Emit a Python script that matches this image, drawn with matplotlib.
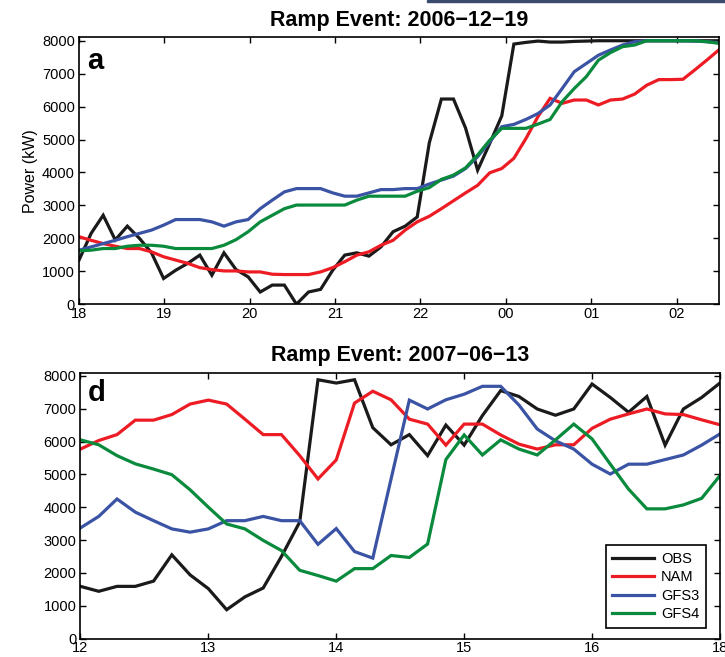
import numpy as np
import matplotlib
matplotlib.use("Agg")
import matplotlib.pyplot as plt
from matplotlib.patches import Rectangle

plt.rcParams['font.family'] = ['Liberation Sans', 'DejaVu Sans']

# --- ramp event 2006-12-19 (panel a) ---
obs_a = [1340, 2150, 2700, 1950, 2370, 2000, 1560, 780, 1030, 1240,
         1490, 880, 1560, 1050, 830, 370, 580, 580, 0, 370,
         450, 1030, 1490, 1560, 1460, 1740, 2200, 2370, 2650, 4900,
         6230, 6230, 5350, 4070, 4880, 5720, 7900, 7950, 7990, 7960,
         7960, 7980, 7990, 8000, 8000, 8000, 8000, 8000, 8000, 8000,
         8000, 8000, 8000, 8000]
nam_a = [2050, 1940, 1840, 1760, 1690, 1690, 1590, 1440, 1340, 1240,
         1110, 1050, 1010, 1010, 980, 980, 910, 900, 900, 900,
         980, 1110, 1290, 1490, 1590, 1790, 1940, 2250, 2500, 2670,
         2900, 3140, 3380, 3610, 3990, 4120, 4430, 5030, 5700, 6250,
         6100, 6200, 6200, 6050, 6200, 6230, 6380, 6650, 6820, 6820,
         6830, 7120, 7420, 7730]
gfs3_a = [1640, 1740, 1840, 1940, 2050, 2150, 2250, 2400, 2570, 2570,
          2570, 2500, 2370, 2500, 2570, 2900, 3160, 3410, 3510, 3510,
          3510, 3380, 3280, 3280, 3380, 3480, 3480, 3510, 3510, 3650,
          3770, 3890, 4120, 4480, 4930, 5390, 5460, 5610, 5790, 6050,
          6550, 7060, 7310, 7560, 7720, 7870, 7970, 8000, 8000, 8000,
          8000, 7990, 7970, 7940]
gfs4_a = [1620, 1640, 1690, 1690, 1760, 1790, 1790, 1760, 1690, 1690,
          1690, 1690, 1790, 1960, 2200, 2500, 2700, 2900, 3010, 3010,
          3010, 3010, 3010, 3160, 3280, 3280, 3280, 3280, 3430, 3540,
          3790, 3920, 4140, 4530, 4980, 5340, 5340, 5340, 5470, 5610,
          6150, 6550, 6910, 7410, 7640, 7820, 7870, 8000, 8000, 8000,
          8000, 8000, 7970, 7920]
ticks_a = ['18', '19', '20', '21', '22', '00', '01', '02']

# --- ramp event 2007-06-13 (panel d) ---
obs_d = [1590, 1440, 1590, 1590, 1750, 2550, 1940, 1520, 880, 1270,
         1540, 2500, 3550, 7880, 7780, 7880, 6420, 5900, 6210, 5570,
         6500, 5890, 6790, 7550, 7370, 6990, 6800, 6990, 7750, 7340,
         6890, 7370, 5890, 6990, 7340, 7780]
nam_d = [5770, 6030, 6210, 6650, 6650, 6820, 7140, 7260, 7140, 6680,
         6210, 6210, 5570, 4860, 5440, 7170, 7530, 7270, 6680, 6530,
         5890, 6530, 6530, 6200, 5920, 5770, 5900, 5900, 6400, 6680,
         6840, 6990, 6840, 6820, 6660, 6510]
gfs3_d = [3370, 3720, 4250, 3850, 3590, 3340, 3240, 3340, 3590, 3590,
          3720, 3590, 3590, 2870, 3350, 2650, 2450, 4860, 7260, 6990,
          7270, 7440, 7680, 7680, 7110, 6380, 6020, 5770, 5310, 5010,
          5310, 5310, 5450, 5590, 5890, 6230]
gfs4_d = [6050, 5900, 5570, 5320, 5160, 4990, 4530, 4000, 3490, 3340,
          2990, 2680, 2080, 1920, 1750, 2130, 2130, 2530, 2470, 2880,
          5450, 6200, 5590, 6050, 5770, 5590, 6050, 6530, 6080, 5310,
          4550, 3950, 3950, 4070, 4270, 4960]
ticks_d = ['12', '13', '14', '15', '16', '18']

labels = ['OBS', 'NAM', 'GFS3', 'GFS4']
colors = ['#1a1a1a', '#ed1c24', '#3a53a4', '#0a8a3c']

# sample times in hours from the start of each window
t_a = np.arange(len(obs_a)) * 7.5 / (len(obs_a) - 1)
t_d = np.arange(len(obs_d)) / 7.0

fig = plt.figure(figsize=(7.25, 6.57), dpi=100)
ax1 = fig.add_axes([0.109, 0.537, 0.883, 0.406])
ax2 = fig.add_axes([0.111, 0.028, 0.882, 0.405])

# strip of the neighbouring figure at the top edge
fig.patches.append(Rectangle((0.589, 0.9965), 0.411, 0.0035, transform=fig.transFigure,
                             color='#3b4b6b', zorder=0))


def style(ax, ticks, xmax):
    ax.set_xlim(0, xmax)
    ax.set_ylim(0, 8100)
    ax.set_xticks(range(len(ticks)))
    ax.set_xticklabels(ticks)
    ax.set_yticks(range(0, 8001, 1000))
    ax.tick_params(direction='in', length=4, width=1, top=True, right=True,
                   labelsize=10.5)
    ax.tick_params(axis='x', pad=2)
    ax.tick_params(axis='y', pad=3)
    for s in ax.spines.values():
        s.set_linewidth(1.2)


for vals, c, lab in zip([obs_a, nam_a, gfs3_a, gfs4_a], colors, labels):
    ax1.plot(t_a, vals, color=c, lw=2.3, label=lab, solid_joinstyle='miter')
style(ax1, ticks_a, 7.5)
ax1.set_ylabel('Power (kW)', fontsize=11.5, labelpad=3)
ax1.set_title('Ramp Event: 2006\u221212\u221219', fontsize=15.5, fontweight='bold', pad=8)
ax1.text(0.012, 0.965, 'a', transform=ax1.transAxes, fontsize=21, fontweight='bold',
         va='top', ha='left')

for vals, c, lab in zip([obs_d, nam_d, gfs3_d, gfs4_d], colors, labels):
    ax2.plot(t_d, vals, color=c, lw=2.3, label=lab, solid_joinstyle='miter')
style(ax2, ticks_d, 5)
ax2.set_title('Ramp Event: 2007\u221206\u221213', fontsize=15.5, fontweight='bold', pad=8)
ax2.text(0.012, 0.975, 'd', transform=ax2.transAxes, fontsize=21, fontweight='bold',
         va='top', ha='left')

leg = ax2.legend(loc='lower right', bbox_to_anchor=(0.978, 0.041), borderaxespad=0,
                 fontsize=10.5, handlelength=2.9, handletextpad=0.45, labelspacing=0.3,
                 fancybox=False, framealpha=1, borderpad=0.45)
leg.get_frame().set_edgecolor('black')
leg.get_frame().set_linewidth(1.2)

fig.savefig('out.png', dpi=100)
